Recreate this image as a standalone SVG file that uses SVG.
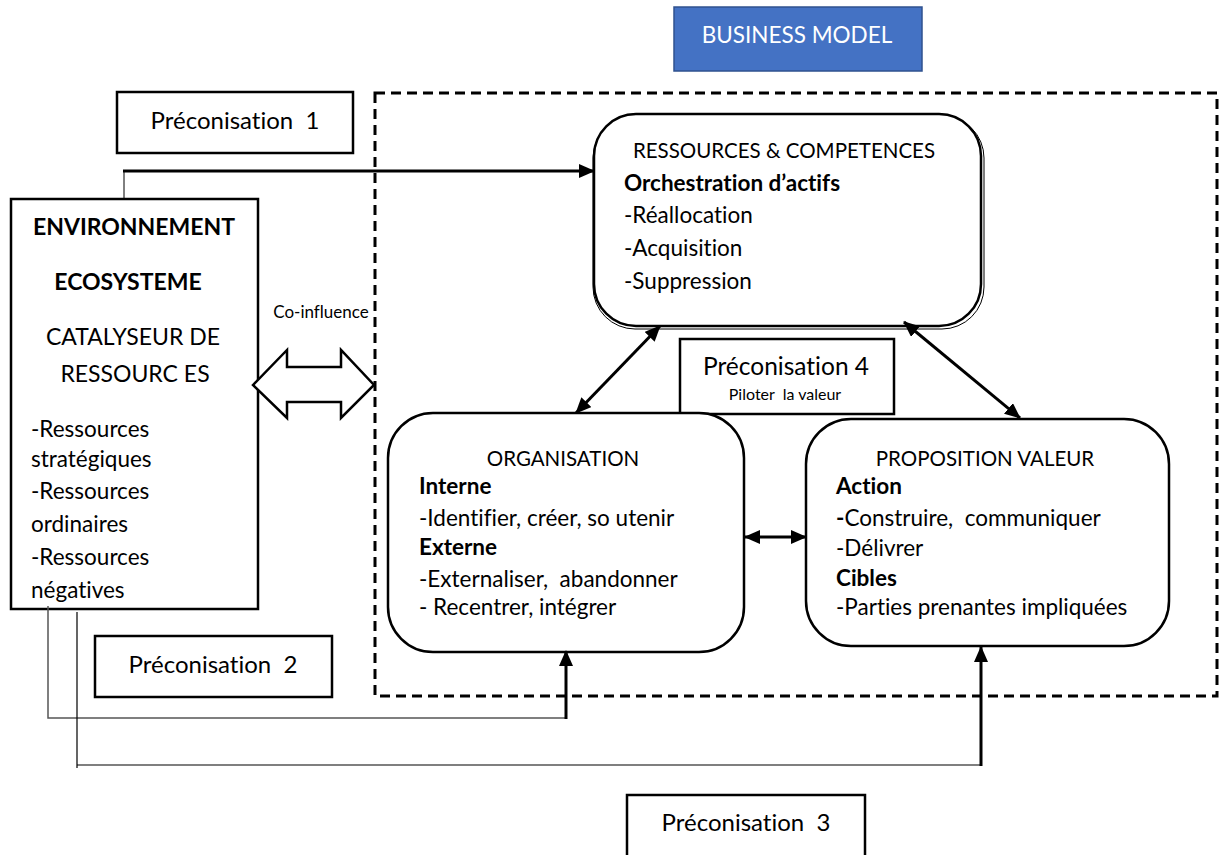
<svg xmlns="http://www.w3.org/2000/svg" width="1222" height="855" viewBox="0 0 1222 855">
<style>
text{font-family:Lato,"Open Sans","Liberation Sans",sans-serif;fill:#000;white-space:pre;font-variant-ligatures:none}
.t{font-size:22.5px}
.b{font-size:22.5px;font-weight:bold}
.h{font-size:20.5px}
.p{font-size:24px}
.box{fill:#fff;stroke:#000;stroke-width:2.5}
.rbox{fill:#fff;stroke:#000;stroke-width:2.5}
.c{text-anchor:middle}
.thick{stroke:#000;stroke-width:3;fill:none}
</style>
<defs>
<marker id="ah" viewBox="0 0 16 14" refX="15" refY="7" markerWidth="16" markerHeight="14" markerUnits="userSpaceOnUse" orient="auto-start-reverse">
<path d="M0,0 L16,7 L0,14 Z" fill="#000"/>
</marker>
</defs>
<rect x="0" y="0" width="1222" height="855" fill="#fff"/>

<g id="business-model">
<rect x="674" y="7" width="248" height="64" fill="#4472C4" stroke="#2F528F" stroke-width="1.5"/>
<text x="797" y="43" class="c" style="fill:#fff" font-size="22.5">BUSINESS MODEL</text>
</g>

<g id="bm-frame">
<rect x="375" y="93" width="842" height="603" fill="none" stroke="#000" stroke-width="3" stroke-dasharray="10 6"/>
</g>

<g id="preco1">
<rect x="117" y="92" width="236" height="61" class="box"/>
<text x="235" y="129" class="p c">Préconisation&#160; 1</text>
</g>

<g id="environnement">
<rect x="11" y="199" width="247" height="410" class="box"/>
<text x="134" y="235" class="c" font-size="23" font-weight="bold">ENVIRONNEMENT</text>
<text x="128" y="290" class="c" font-size="23" font-weight="bold">ECOSYSTEME</text>
<text x="133" y="345" class="c" font-size="23">CATALYSEUR DE</text>
<text x="135" y="382" class="c" font-size="23">RESSOURC ES</text>
<text x="31" y="437" class="t">-Ressources</text>
<text x="31" y="467" class="t">stratégiques</text>
<text x="31" y="499" class="t">-Ressources</text>
<text x="31" y="532" class="t">ordinaires</text>
<text x="31" y="565" class="t">-Ressources</text>
<text x="31" y="598" class="t">négatives</text>
</g>

<g id="co-influence">
<text x="321" y="318" font-size="17" class="c">Co-influence</text>
<path d="M253,385 L287,350 L287,367 L341,367 L341,350 L374,385 L341,418 L341,402 L287,402 L287,418 Z" fill="#fff" stroke="#000" stroke-width="2.5"/>
</g>

<g id="ressources">
<rect x="593" y="116" width="391" height="213" rx="42" fill="none" stroke="#000" stroke-width="1"/>
<rect x="594" y="114" width="387" height="212" rx="42" class="rbox"/>
<text x="784" y="158" class="h c">RESSOURCES &amp; COMPETENCES</text>
<text x="624" y="191" class="b">Orchestration d’actifs</text>
<text x="624" y="223" class="t">-Réallocation</text>
<text x="624" y="256" class="t">-Acquisition</text>
<text x="624" y="289" class="t">-Suppression</text>
</g>

<g id="preco4">
<rect x="680" y="339" width="214" height="75" class="box"/>
<text x="786" y="375" class="c" font-size="24.5">Préconisation 4</text>
<text x="785" y="400" class="c" font-size="16">Piloter&#160; la valeur</text>
</g>

<g id="organisation">
<rect x="388" y="413" width="356" height="239" rx="45" class="rbox"/>
<text x="563" y="466" class="h c">ORGANISATION</text>
<text x="419" y="494" class="b">Interne</text>
<text x="419" y="526" class="t">-Identifier, créer, so utenir</text>
<text x="419" y="555" class="b">Externe</text>
<text x="419" y="587" class="t">-Externaliser,&#160; abandonner</text>
<text x="419" y="615" class="t">- Recentrer, intégrer</text>
</g>

<g id="proposition">
<rect x="806" y="419" width="363" height="227" rx="45" class="rbox"/>
<text x="985" y="466" class="h c">PROPOSITION VALEUR</text>
<text x="836" y="494" class="b">Action</text>
<text x="836" y="526" class="t"><tspan font-weight="bold">-</tspan>Construire,&#160; communiquer</text>
<text x="836" y="556" class="t">-Délivrer</text>
<text x="836" y="586" class="b">Cibles</text>
<text x="836" y="615" class="t">-Parties prenantes impliquées</text>
</g>

<g id="preco2">
<rect x="95" y="636" width="237" height="61" class="box"/>
<text x="213" y="673" class="p c">Préconisation&#160; 2</text>
</g>

<g id="preco3">
<rect x="627" y="795" width="238" height="70" class="box"/>
<text x="746" y="831" class="p c">Préconisation&#160; 3</text>
</g>

<g id="connectors">
<path d="M124,199 L124,171" stroke="#000" stroke-width="1" fill="none"/>
<path d="M123,171 L594,171" class="thick" marker-end="url(#ah)"/>
<path d="M660,326 L576,413" class="thick" marker-start="url(#ah)" marker-end="url(#ah)"/>
<path d="M904,322 L1020,418" class="thick" marker-start="url(#ah)" marker-end="url(#ah)"/>
<path d="M745,537 L806,537" class="thick" marker-start="url(#ah)" marker-end="url(#ah)"/>
<path d="M48,606 L48,718 L566,718" stroke="#555" stroke-width="1.5" fill="none"/>
<path d="M566,719 L566,651" class="thick" marker-end="url(#ah)"/>
<path d="M77,612 L77,768 M77,765 L981,765" stroke="#000" stroke-width="1.2" fill="none"/>
<path d="M981,766 L981,647" class="thick" marker-end="url(#ah)"/>
</g>
</svg>
